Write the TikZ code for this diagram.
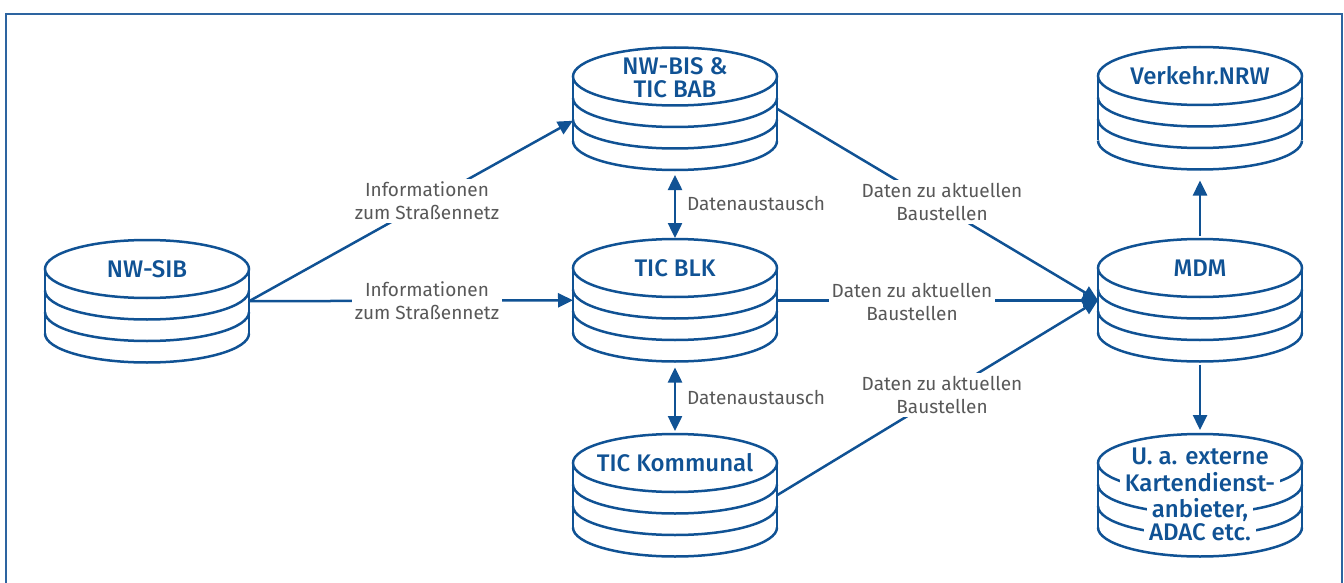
\documentclass[tikz,border=0pt]{standalone}
\usepackage{fontspec}
\setmainfont{Fira Sans}[BoldFont={Fira Sans Medium}]
\usetikzlibrary{arrows.meta}
\definecolor{dbblue}{RGB}{16,82,148}
\definecolor{lblgray}{RGB}{88,88,88}
\definecolor{framec}{RGB}{45,100,160}
\newcommand\wl[1]{{\fboxsep=0pt\colorbox{white}{\hspace{5pt}\vrule height 17pt depth 6pt width 0pt\relax #1\hspace{5pt}}}}
% #1 name, #2 cx, #3 cy (top ellipse centre), #4 text, #5 text offset
\newcommand\dbcyl[5]{%
  \node[cylbox] (#1) at (#2,#3+32.25) {};
  \draw[cyl] (#2-102,#3) -- (#2-102,#3+64.5) (#2+102,#3) -- (#2+102,#3+64.5);
  \draw[cyl] (#2,#3) ellipse [x radius=102pt, y radius=29pt];
  \foreach \k in {21.5,43,64.5}
    \draw[cyl] (#2-102,#3+\k) arc[start angle=180,end angle=360,x radius=102pt,y radius=29pt];
  \node[dbtext] (#1-t) at (#2,#3+#5) {#4};
}
\begin{document}
\begin{tikzpicture}[x=1pt,y=-1pt,
  cyl/.style={draw=dbblue, line width=2.5pt},
  cylbox/.style={minimum width=204pt, minimum height=122.5pt, inner sep=0pt, outer sep=0pt},
  dbtext/.style={text=dbblue, font=\bfseries\fontsize{24}{23}\selectfont, align=center, inner sep=0pt},
  lbl/.style={text=lblgray, font=\fontsize{19}{23}\selectfont, align=center, fill=white, inner sep=3pt},
  conn/.style={draw=dbblue, line width=2.5pt, -{Triangle[length=15pt,width=14pt]}},
  dconn/.style={draw=dbblue, line width=2.5pt, {Triangle[length=15pt,width=14pt]}-{Triangle[length=15pt,width=14pt]}},
  framel/.style={draw=framec, line width=2.5pt}
]
\useasboundingbox (0,0) rectangle (1344,583);
\draw[framel] (6,600) -- (6,14) -- (1342,14) -- (1342,600);

\dbcyl{sib}{147}{269}{NW-SIB}{0}
\dbcyl{bis}{675}{76.5}{NW-BIS \&\\TIC BAB}{1}
\dbcyl{blk}{675}{268}{TIC BLK}{0}
\dbcyl{kom}{675}{463}{TIC Kommunal}{0}
\dbcyl{nrw}{1200}{76}{Verkehr.NRW}{0}
\dbcyl{mdm}{1200}{268}{MDM}{0}
\dbcyl{ext}{1200}{463}{\wl{U. a. externe}\\\wl{Kartendienst-}\\\wl{anbieter,}\\\wl{ADAC etc.}}{34}

% connectors
\draw[conn] (sib.east) -- ([yshift=-12pt]bis.west);
\draw[conn] (sib.east) -- (blk.west);
\draw[dconn, shorten <=5pt, shorten >=1pt] (bis.south) -- (blk.north);
\draw[dconn, shorten <=6pt, shorten >=3pt] (blk.south) -- (kom.north);
\draw[conn] (bis.east) -- (mdm.west);
\draw[conn] (blk.east) -- (mdm.west);
\draw[conn] (kom.east) -- (mdm.west);
\draw[conn, shorten <=3pt, shorten >=11pt] (mdm.north) -- (nrw.south);
\draw[conn, shorten <=3pt, shorten >=4pt] (mdm.south) -- (ext.north);

% labels
\node[lbl] (l1) at (427,201) {Informationen\\zum Straßennetz};
\node[lbl] (l2) at (427,301) {Informationen\\zum Straßennetz};
\node[lbl, fill=none] (l3) at (756,204) {Datenaustausch};
\node[lbl, fill=none] (l4) at (756,398) {Datenaustausch};
\node[lbl] (l5) at (942,202) {Daten zu aktuellen\\Baustellen};
\node[lbl] (l6) at (912,302) {Daten zu aktuellen\\Baustellen};
\node[lbl] (l7) at (942,395) {Daten zu aktuellen\\Baustellen};
\end{tikzpicture}
\end{document}
